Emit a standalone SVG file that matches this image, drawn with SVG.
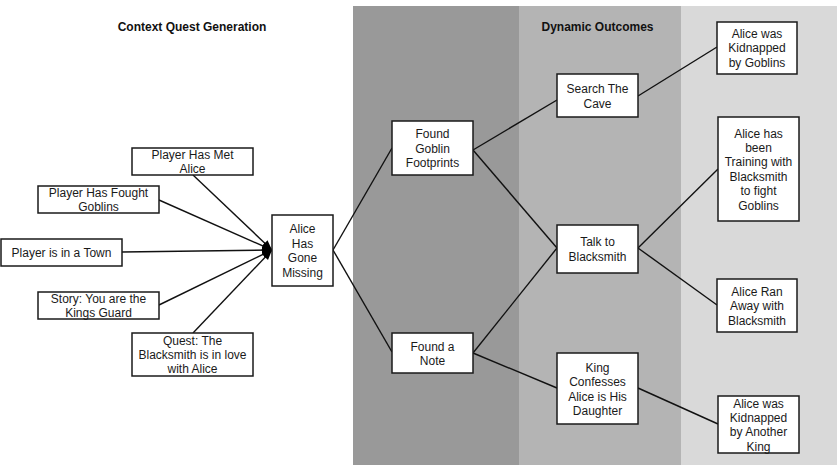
<svg xmlns="http://www.w3.org/2000/svg" width="840" height="468" viewBox="0 0 840 468">
<style>
.node rect{fill:#ffffff;stroke:#1a1a1a;stroke-width:1.5}
.node text{font-family:"Liberation Sans",Arial,sans-serif;font-size:12px;fill:#1a1a1a;text-anchor:middle}
.title{font-family:"Liberation Sans",Arial,sans-serif;font-size:12px;font-weight:bold;fill:#111;text-anchor:middle}
.edges line{stroke:#111;stroke-width:1.4;fill:none}
</style>
<defs>
<marker id="arr" markerUnits="userSpaceOnUse" markerWidth="10" markerHeight="10" viewBox="0 0 10 10" refX="10" refY="5" orient="auto">
<path d="M0,1 L10,5 L0,9 z" fill="#000"/>
</marker>
</defs>
<rect x="0" y="0" width="840" height="468" fill="#ffffff"/>
<g id="bands">
<rect x="353" y="6" width="166" height="459" fill="#999999"/>
<rect x="519" y="6" width="162" height="459" fill="#b4b4b4"/>
<rect x="681" y="6" width="156" height="459" fill="#d9d9d9"/>
</g>
<text class="title" x="192" y="31">Context Quest Generation</text>
<text class="title" x="597.5" y="31">Dynamic Outcomes</text>
<g class="edges" id="connectors">
<line x1="193" y1="175" x2="272" y2="250" marker-end="url(#arr)"/>
<line x1="159" y1="200" x2="272" y2="250" marker-end="url(#arr)"/>
<line x1="122" y1="252" x2="272" y2="250" marker-end="url(#arr)"/>
<line x1="159" y1="305" x2="272" y2="250" marker-end="url(#arr)"/>
<line x1="193" y1="333" x2="272" y2="250" marker-end="url(#arr)"/>
<line x1="333" y1="250" x2="392" y2="148"/>
<line x1="333" y1="250" x2="392" y2="352"/>
<line x1="473" y1="150" x2="557" y2="100"/>
<line x1="473" y1="150" x2="557" y2="248"/>
<line x1="473" y1="353" x2="557" y2="248"/>
<line x1="473" y1="353" x2="557" y2="388"/>
<line x1="638" y1="96" x2="717" y2="47"/>
<line x1="638" y1="248" x2="718" y2="169"/>
<line x1="638" y1="248" x2="717" y2="305"/>
<line x1="638" y1="388" x2="718" y2="424"/>
</g>
<g class="node" id="met"><rect x="132" y="148" width="121" height="27"/><text x="192.5" y="159">Player Has Met</text><text x="192.5" y="173.4">Alice</text></g>
<g class="node" id="fought"><rect x="38" y="186" width="121" height="27"/><text x="98.5" y="197">Player Has Fought</text><text x="98.5" y="211.4">Goblins</text></g>
<g class="node" id="town"><rect x="1" y="239" width="121" height="27"/><text x="61.5" y="257">Player is in a Town</text></g>
<g class="node" id="story"><rect x="38" y="292" width="121" height="27"/><text x="98.5" y="303">Story: You are the</text><text x="98.5" y="317.4">Kings Guard</text></g>
<g class="node" id="quest"><rect x="132" y="333" width="121" height="43"/><text x="192.5" y="344.6">Quest: The</text><text x="192.5" y="359">Blacksmith is in love</text><text x="192.5" y="373.4">with Alice</text></g>
<g class="node" id="missing"><rect x="272" y="215" width="61" height="71"/><text x="302.5" y="233.3">Alice</text><text x="302.5" y="247.7">Has</text><text x="302.5" y="262.1">Gone</text><text x="302.5" y="276.5">Missing</text></g>
<g class="node" id="footprints"><rect x="392" y="121" width="81" height="54"/><text x="432.5" y="138.3">Found</text><text x="432.5" y="152.7">Goblin</text><text x="432.5" y="167.1">Footprints</text></g>
<g class="node" id="note"><rect x="392" y="333" width="81" height="40"/><text x="432.5" y="350.6">Found a</text><text x="432.5" y="365">Note</text></g>
<g class="node" id="cave"><rect x="557" y="74" width="81" height="43"/><text x="597.5" y="93.1">Search The</text><text x="597.5" y="107.5">Cave</text></g>
<g class="node" id="talk"><rect x="557" y="225" width="81" height="48"/><text x="597.5" y="246.4">Talk to</text><text x="597.5" y="260.8">Blacksmith</text></g>
<g class="node" id="king"><rect x="557" y="353" width="81" height="71"/><text x="597.5" y="371.7">King</text><text x="597.5" y="386.1">Confesses</text><text x="597.5" y="400.5">Alice is His</text><text x="597.5" y="414.9">Daughter</text></g>
<g class="node" id="kidnapped-goblins"><rect x="717" y="22" width="80" height="52"/><text x="757" y="38">Alice was</text><text x="757" y="52.4">Kidnapped</text><text x="757" y="66.8">by Goblins</text></g>
<g class="node" id="training"><rect x="718" y="117" width="81" height="104"/><text x="758.5" y="137.5">Alice has</text><text x="758.5" y="151.9">been</text><text x="758.5" y="166.3">Training with</text><text x="758.5" y="180.7">Blacksmith</text><text x="758.5" y="195.1">to fight</text><text x="758.5" y="209.5">Goblins</text></g>
<g class="node" id="ran-away"><rect x="717" y="279" width="80" height="53"/><text x="757" y="295.8">Alice Ran</text><text x="757" y="310.2">Away with</text><text x="757" y="324.6">Blacksmith</text></g>
<g class="node" id="kidnapped-king"><rect x="718" y="396" width="81" height="57"/><text x="758.5" y="407.5">Alice was</text><text x="758.5" y="421.9">Kidnapped</text><text x="758.5" y="436.3">by Another</text><text x="758.5" y="450.7">King</text></g>
</svg>
